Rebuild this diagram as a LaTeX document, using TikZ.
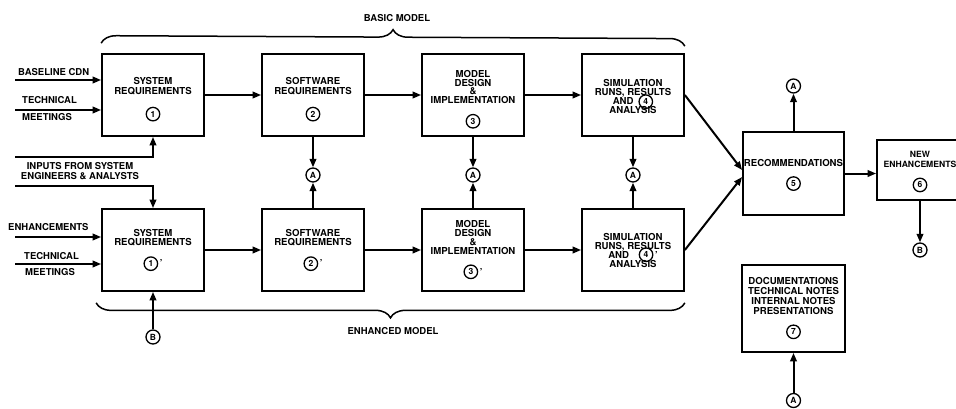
\documentclass[tikz,border=0pt]{standalone}
\usepackage{fontspec}
\setmainfont{TeX Gyre Heros}
\usetikzlibrary{arrows.meta,decorations.pathreplacing}
% circled step number, used inside the box texts
\newcommand\cnum[1]{\tikz[baseline=-3.3pt]\node[circle, draw=black, line width=1.3pt,
  minimum size=13.5pt, inner sep=0pt, font=\fontsize{8.5}{8.5}\selectfont\bfseries] {#1};}
\newcommand\lift{\rule{0pt}{16pt}}

\begin{document}
\begin{tikzpicture}[x=1pt, y=-1pt,
    blk/.style={rectangle, draw=black, line width=1.7pt, minimum width=102pt,
                minimum height=82pt, inner sep=1pt, align=center,
                font=\fontsize{9.6}{9.8}\selectfont\bfseries},
    con/.style={circle, draw=black, line width=1.3pt, minimum size=14pt,
                inner sep=0pt, font=\fontsize{8.5}{8.5}\selectfont\bfseries},
    arr/.style={line width=2pt, -{Triangle[length=8.5pt, width=6.5pt]}},
    lab/.style={font=\fontsize{9.5}{10}\selectfont\bfseries, inner sep=0pt},
    brc/.style={decorate, decoration={brace, amplitude=15pt}, line width=1.5pt}]
  \useasboundingbox (0,0) rectangle (956,408);
  \def\dx{160}
  \def\yt{95}     % basic model row
  \def\yb{250}    % enhanced model row
  % --- basic model ----------------------------------------------------------
  \node[blk] (s1) at (153,\yt) {\lift SYSTEM\\REQUIREMENTS\\[11pt]\cnum{1}};
  \node[blk] (s2) at ({153+\dx},\yt) {\lift SOFTWARE\\REQUIREMENTS\\[11pt]\cnum{2}};
  \node[blk, font=\fontsize{9.6}{8.8}\selectfont\bfseries] (s3) at ({153+2*\dx},\yt)
    {\lift MODEL\\DESIGN\\\&\\IMPLEMENTATION\\[9pt]\cnum{3}};
  \node[blk, font=\fontsize{9.6}{9}\selectfont\bfseries] (s4) at ({153+3*\dx},\yt)
    {\rule{0pt}{11pt}SIMULATION\\RUNS, RESULTS\\AND\enspace\smash{\cnum{4}}\\ANALYSIS};
  % --- enhanced model -------------------------------------------------------
  \node[blk] (e1) at (153,\yb) {SYSTEM\\REQUIREMENTS\\[9pt]\cnum{1}\,'};
  \node[blk] (e2) at ({153+\dx},\yb) {SOFTWARE\\REQUIREMENTS\\[9pt]\cnum{2}\,'};
  \node[blk, font=\fontsize{9.6}{8.8}\selectfont\bfseries] (e3) at ({153+2*\dx},\yb)
    {MODEL\\DESIGN\\\&\\IMPLEMENTATION\\[9pt]\cnum{3}\,'};
  \node[blk, font=\fontsize{9.6}{9}\selectfont\bfseries] (e4) at ({153+3*\dx},\yb)
    {SIMULATION\\RUNS, RESULTS\\AND\quad\smash{\cnum{4}}\,'\\ANALYSIS};
  \foreach \i/\j in {1/2,2/3,3/4} {
    \draw[arr] (s\i) -- (s\j);
    \draw[arr] (e\i) -- (e\j); }
  \foreach \i in {2,3,4} {
    \node[con] (a\i) at ({153+(\i-1)*\dx},175) {A};
    \draw[arr] (s\i) -- (a\i);
    \draw[arr] (e\i) -- (a\i); }
  % --- inputs ---------------------------------------------------------------
  \coordinate (iBase) at (15,80);   \coordinate (iTech) at (15,110);
  \coordinate (iEngA) at (15,157);  \coordinate (iEngB) at (15,186);
  \coordinate (iEnh)  at (15,237);  \coordinate (iTechB) at (15,264);
  \draw[arr] (iBase) -- (iBase -| s1.west);
  \draw[arr] (iTech) -- (iTech -| s1.west);
  \draw[arr] (iEngA) -| (s1.south);
  \draw[arr] (iEngB) -| (e1.north);
  \draw[arr] (iEnh) -- (iEnh -| e1.west);
  \draw[arr] (iTechB) -- (iTechB -| e1.west);
  \node[lab, anchor=west] (lBase) at (18,72)  {BASELINE CDN};
  \node[lab, anchor=west] (lTech) at (22,100) {TECHNICAL};
  \node[lab, anchor=west] (lMeet) at (22,117) {MEETINGS};
  \node[lab, align=center] (lEng) at (80,171) {INPUTS FROM SYSTEM\\ENGINEERS \& ANALYSTS};
  \node[lab, anchor=west] (lEnh)  at (8,227)  {ENHANCEMENTS};
  \node[lab, anchor=west] (lTechB) at (24,256) {TECHNICAL};
  \node[lab, anchor=west] (lMeetB) at (25,272) {MEETINGS};
  \node[con] (bE) at (153,337) {B};
  \draw[arr] (bE) -- (e1);
  % --- braces ---------------------------------------------------------------
  \draw[brc] ([yshift=10pt]s1.north west) -- ([yshift=7pt]s4.north east);
  \draw[brc] ([yshift=-11pt]e4.south east) -- ([xshift=-5pt, yshift=-11pt]e1.south west);
  \node[lab] (tBasic) at (397,18)  {BASIC MODEL};
  \node[lab] (tEnh)   at (393,331) {ENHANCED MODEL};
  % --- recommendations and what follows -------------------------------------
  \node[blk, minimum width=101pt, minimum height=83pt] (rec) at (793.5,173.5)
    {\rule{0pt}{10pt}RECOMMENDATIONS\\[9pt]\cnum{5}};
  \node[blk, minimum width=86pt, minimum height=60pt,
        font=\fontsize{8.6}{9.8}\selectfont\bfseries] (new) at (920,170)
    {\rule{0pt}{10pt}NEW\\ENHANCEMENTS\\[9pt]\cnum{6}};
  \node[blk, minimum width=103pt, minimum height=87pt] (doc) at (793.5,308.5)
    {DOCUMENTATIONS\\TECHNICAL NOTES\\INTERNAL NOTES\\PRESENTATIONS\\[9pt]\cnum{7}};
  \draw[arr] (s4.east) -- ([yshift=3.5pt]rec.west);
  \draw[arr] (e4.east) -- ([yshift=-3.5pt]rec.west);
  \draw[arr] (rec) -- (rec -| new.west);
  \node[con] (aR) at (793.5,86)  {A};
  \node[con] (bN) at (920,250)   {B};
  \node[con] (aD) at (793.5,400.5) {A};
  \draw[arr] (rec) -- (aR);
  \draw[arr] (new) -- (bN);
  \draw[arr] (aD) -- (doc);
\end{tikzpicture}
\end{document}
